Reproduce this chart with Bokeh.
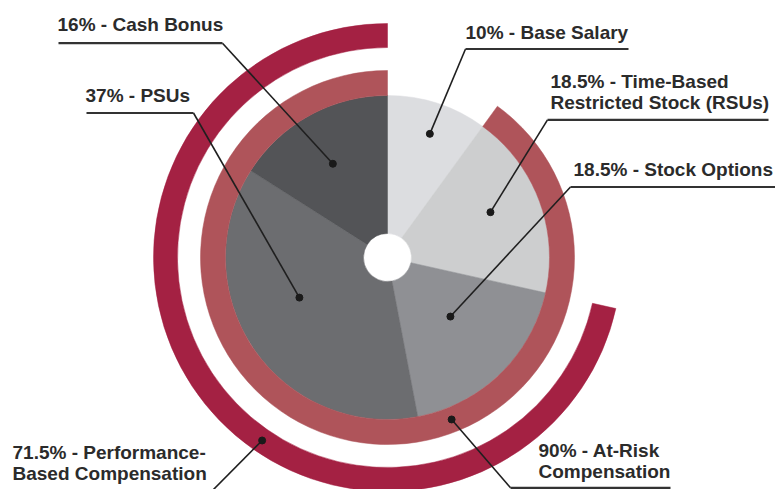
import math
from bokeh.plotting import figure
from bokeh.models import Range1d, ColumnDataSource
from bokeh.core.properties import value
from bokeh.embed import file_html
from bokeh.resources import INLINE

# ---------------- data ----------------
categories = ["Base Salary", "Time-Based Restricted Stock (RSUs)", "Stock Options", "PSUs", "Cash Bonus"]
shares = [10, 18.5, 18.5, 37, 16]
slice_colors = ["#dcdde0", "#cdcecf", "#8f9094", "#6c6d70", "#535457"]

groups = ["At-Risk Compensation", "Performance-Based Compensation"]
group_shares = [90, 71.5]
group_colors = ["#af545a", "#a42143"]

label_texts = [
    "10% - Base Salary",
    "18.5% - Time-Based\nRestricted Stock (RSUs)",
    "18.5% - Stock Options",
    "37% - PSUs",
    "16% - Cash Bonus",
    "90% - At-Risk\nCompensation",
    "71.5% - Performance-\nBased Compensation",
]

# ---------------- layout (reference pixel frame) ----------------
W, H = 775, 489
CX, CY = 387, 257
HOLE_R, PIE_R = 24, 162
RING1 = (162, 187)
RING2 = (210, 234)
TEXT_SHIFT = 7.5   # renderer draws the baseline lower than asked; compensate

def P(x, y):
    return (x - CX, CY - y)

def ang(f):
    return math.pi / 2 - 2 * math.pi * f / 100.0

# per-label: text x, first baseline, underline y / x0 / x1, elbow side, anchor (frac %, radius)
label_layout = [
    dict(tx=465, by=39, uy=48.5, ux0=465, ux1=628, side="L", a=(5.25, 130.7)),
    dict(tx=550, by=88.5, uy=119.3, ux0=547, ux1=768, side="L", a=(18.4, 112.5)),
    dict(tx=573, by=176.7, uy=186.5, ux0=570, ux1=778, side="L", a=(37.0, 86.3)),
    dict(tx=85, by=102.3, uy=112.5, ux0=86, ux1=193, side="R", a=(68.2, 96.8)),
    dict(tx=57, by=31.7, uy=42.7, ux0=58, ux1=222, side="R", a=(91.6, 108.5)),
    dict(tx=538, by=457, uy=487.3, ux0=510, ux1=670, side="L", a=(44.0, 174.2)),
    dict(tx=12, by=459.3, uy=492, ux0=12, ux1=210, side="R", a=(59.56, 221.8)),
]
LINE_STEP = 21.3

p = figure(width=W, height=H,
           x_range=Range1d(-CX, W - CX), y_range=Range1d(CY - H, CY),
           output_backend="svg", toolbar_location=None, min_border=0,
           x_axis_location=None, y_axis_location=None,
           outline_line_color=None, background_fill_color="white",
           border_fill_color="white")
p.grid.visible = False

# pie slices
cum = [0]
for s in shares:
    cum.append(cum[-1] + s)
src = ColumnDataSource(dict(
    name=categories,
    start=[ang(cum[i + 1]) for i in range(len(shares))],
    end=[ang(cum[i]) for i in range(len(shares))],
    color=slice_colors,
))
p.annular_wedge(x=0, y=0, inner_radius=HOLE_R, outer_radius=PIE_R,
                start_angle="start", end_angle="end", fill_color="color",
                line_color="color", line_width=0.5, source=src)

# rings (both end at 12 o'clock)
rings = [RING1, RING2]
for g, sh, col, (ri, ro) in zip(groups, group_shares, group_colors, rings):
    p.annular_wedge(x=0, y=0, inner_radius=ri, outer_radius=ro,
                    start_angle=ang(100), end_angle=ang(100 - sh),
                    fill_color=col, line_color=col, line_width=0.5)

# labels
lx0, ly0, lx1, ly1 = [], [], [], []
ux0, uy0, ux1, uy1 = [], [], [], []
dx, dy = [], []
tx, ty, tt = [], [], []
for txt, L in zip(label_texts, label_layout):
    frac, r = L["a"]
    th = ang(frac)
    px, py = r * math.cos(th), r * math.sin(th)
    dx.append(px); dy.append(py)
    ex = L["ux0"] if L["side"] == "L" else L["ux1"]
    ex, ey = P(ex, L["uy"])
    lx0.append(px); ly0.append(py); lx1.append(ex); ly1.append(ey)
    a0 = P(L["ux0"], L["uy"]); a1 = P(L["ux1"], L["uy"])
    ux0.append(a0[0]); uy0.append(a0[1]); ux1.append(a1[0]); uy1.append(a1[1])
    for k, line in enumerate(txt.split("\n")):
        q = P(L["tx"], L["by"] + k * LINE_STEP - TEXT_SHIFT)
        tx.append(q[0]); ty.append(q[1]); tt.append(line)

p.segment(x0=lx0, y0=ly0, x1=lx1, y1=ly1, line_color="#1f1f1f", line_width=1.6)
p.segment(x0=ux0, y0=uy0, x1=ux1, y1=uy1, line_color="#333333", line_width=2.2)
p.scatter(x=dx, y=dy, size=7, fill_color="#1a1a1a", line_color="#1a1a1a")
p.text(x=tx, y=ty, text=tt, text_font=value("Liberation Sans"), text_font_style="bold",
       text_font_size="19px", text_color="#2b2b2b", text_baseline="alphabetic",
       text_align="left")

open("out.html", "w").write(file_html(p, INLINE))
